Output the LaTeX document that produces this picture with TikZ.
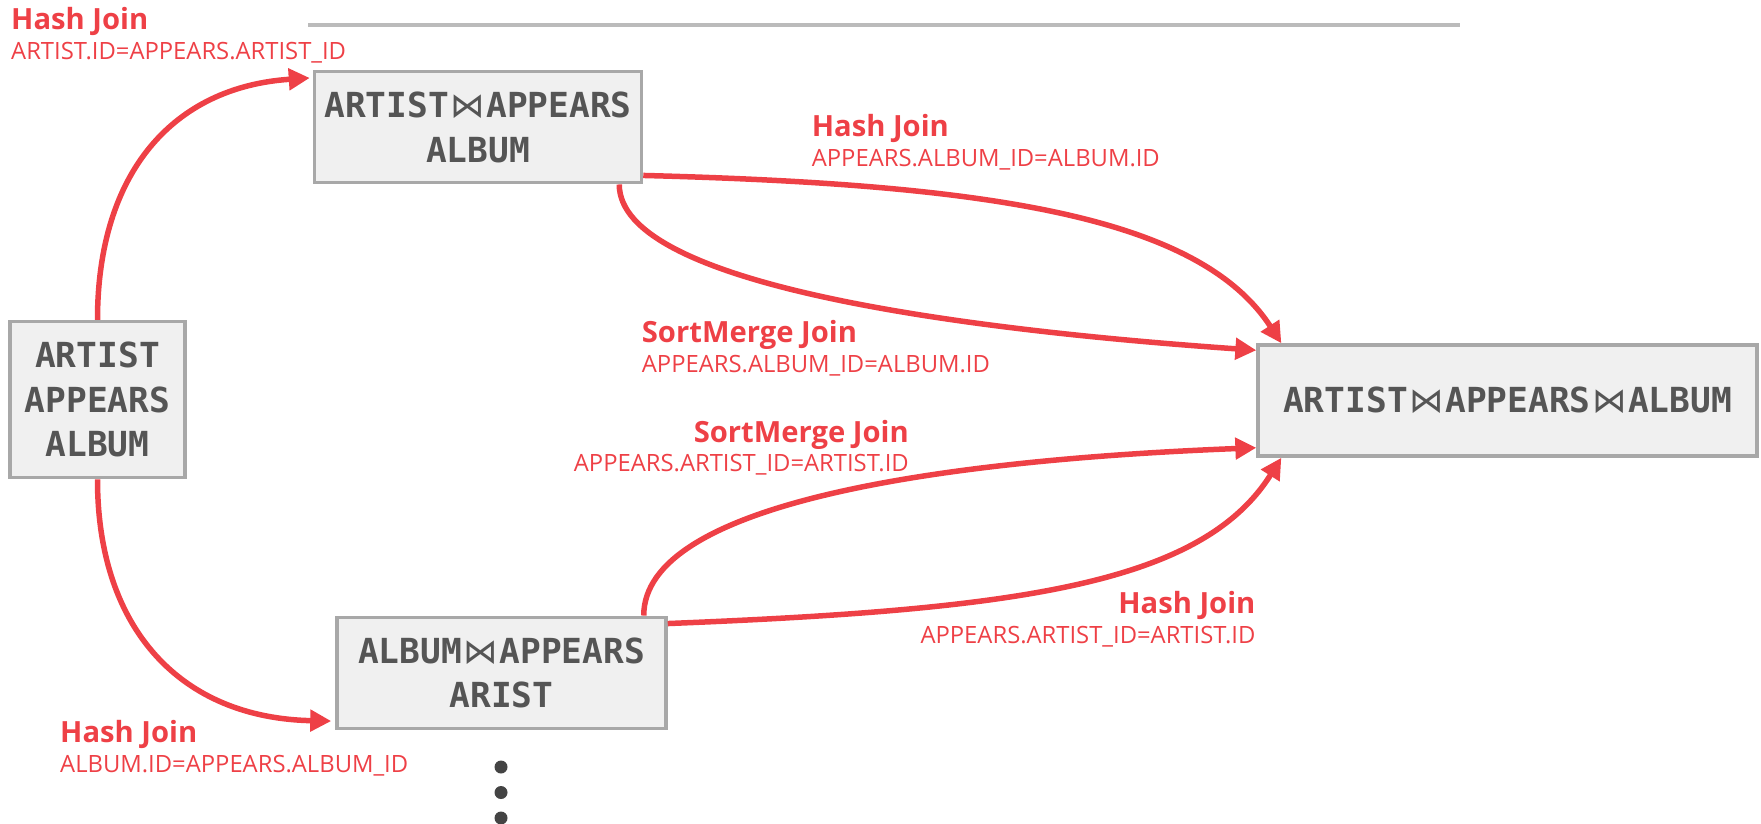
\documentclass[tikz,border=0pt]{standalone}
\usepackage{fontspec}
\setmainfont{Open Sans}
\newfontfamily\monofont{DejaVu Sans Mono}
\newfontfamily\bowfont{DejaVu Sans}
\usetikzlibrary{arrows.meta,calc}

\definecolor{joinred}{RGB}{238,64,70}
\definecolor{boxfill}{HTML}{F0F0F0}
\definecolor{boxline}{HTML}{A8A8A8}
\definecolor{tabletext}{HTML}{555555}
\definecolor{rulegray}{HTML}{BBBBBB}
\definecolor{dotgray}{HTML}{444444}

% join symbol between relation names
\newcommand{\joinsym}{{\bowfont\mdseries\hspace{1.5pt}⋈\hspace{1.5pt}}}

\tikzset{
  x=1pt, y=1pt,
  relbox/.style={draw=boxline, line width=3.5pt, fill=boxfill, inner sep=0pt,
    align=center, text=tabletext,
    font=\monofont\bfseries\fontsize{34.5}{44.5}\selectfont},
  jointitle/.style={inner sep=0pt, text=joinred,
    font=\bfseries\fontsize{29.2}{34}\selectfont},
  joincond/.style={inner sep=0pt, text=joinred,
    font=\fontsize{23.8}{28}\selectfont},
  joinarrow/.style={draw=joinred, line width=5.5pt,
    -{Triangle[length=21pt,width=21pt]}},
}

\begin{document}
\begin{tikzpicture}
\path[use as bounding box] (0,0) rectangle (1761,-824);

% relations
\node[relbox, minimum width=175pt, minimum height=156pt] (all) at (97.5,-399.7)
  {ARTIST\\APPEARS\\ALBUM};
\node[relbox, minimum width=327pt, minimum height=111pt] (aa) at (478,-127.2)
  {ARTIST\joinsym APPEARS\\ALBUM};
\node[relbox, minimum width=329pt, minimum height=111pt] (ba) at (501.5,-672.8)
  {ALBUM\joinsym APPEARS\\ARIST};
\node[relbox, minimum width=499pt, minimum height=111pt] (res) at (1507.6,-400.5)
  {ARTIST\joinsym APPEARS\joinsym ALBUM};

% separator rule at the top
\coordinate (ruleL) at (308,-25);
\coordinate (ruleR) at (1460,-25);
\draw[rulegray, line width=3.3pt] (ruleL) -- (ruleR);

% join plans
\draw[joinarrow] (all.north) .. controls +(0,148) and +(-136,-9) ..
  ([xshift=-3pt,yshift=-8pt]aa.north west);
\draw[joinarrow] (all.south) .. controls +(0,-150) and +(-150,3) ..
  ([xshift=-4pt,yshift=9pt]ba.south west);
\draw[joinarrow] ([yshift=9pt]aa.south east) .. controls +(350,-9) and +(-82,126) ..
  ([xshift=25pt]res.north west);
\draw[joinarrow] ([xshift=-24pt]aa.south east) .. controls +(0,-100) and +(-300,21) ..
  ([yshift=-7pt]res.north west);
\draw[joinarrow] ([xshift=-24pt]ba.north east) .. controls +(0,110) and +(-330,-13) ..
  ([yshift=10pt]res.south west);
\draw[joinarrow] ([yshift=-8pt]ba.north east) .. controls +(350,14) and +(-80,-127) ..
  ([xshift=25pt]res.south west);

% join labels
\node[jointitle, anchor=base west] (l1t) at (11,-29.3) {Hash Join};
\node[joincond, anchor=base west] (l1c) at (11,-59.3) {ARTIST.ID=APPEARS.ARTIST\_ID};

\node[jointitle, anchor=base west] (l2t) at (811.6,-136.7) {Hash Join};
\node[joincond, anchor=base west] (l2c) at (811.6,-166.7) {APPEARS.ALBUM\_ID=ALBUM.ID};

\node[jointitle, anchor=base west] (l3t) at (641.7,-342.7) {SortMerge Join};
\node[joincond, anchor=base west] (l3c) at (641.7,-372.7) {APPEARS.ALBUM\_ID=ALBUM.ID};

\node[jointitle, anchor=base east] (l4t) at (909,-442.7) {SortMerge Join};
\node[joincond, anchor=base east] (l4c) at (909,-471.7) {APPEARS.ARTIST\_ID=ARTIST.ID};

\node[jointitle, anchor=base east] (l5t) at (1255.6,-613.3) {Hash Join};
\node[joincond, anchor=base east] (l5c) at (1255.6,-643) {APPEARS.ARTIST\_ID=ARTIST.ID};

\node[jointitle, anchor=base west] (l6t) at (60,-742.3) {Hash Join};
\node[joincond, anchor=base west] (l6c) at (60,-772.7) {ALBUM.ID=APPEARS.ALBUM\_ID};

% more plans follow
\fill[dotgray] (501,-767) circle (6.5);
\fill[dotgray] (501,-792.5) circle (6.5);
\fill[dotgray] (501,-818) circle (6.5);
\end{tikzpicture}
\end{document}
